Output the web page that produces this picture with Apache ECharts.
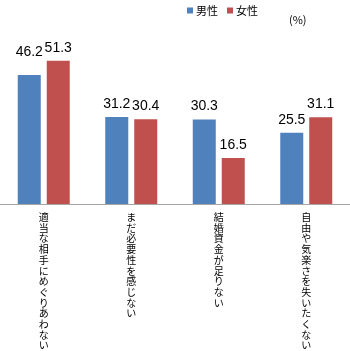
<!DOCTYPE html>
<html><head><meta charset="utf-8">
<script src="https://cdn.jsdelivr.net/npm/echarts@6/dist/echarts.min.js"></script>
<style>html,body{margin:0;padding:0;background:#fff}#c{width:350px;height:351px}</style>
</head><body><div id="c"></div>
<script>
const categories = ['適当な相手にめぐりあわない','まだ必要性を感じない','結婚資金が足りない','自由や気楽さを失いたくない'];
const male = [46.2, 31.2, 30.3, 25.5];
const female = [51.3, 30.4, 16.5, 31.1];
const seriesNames = ['男性','女性'];
const unitLabel = '(%)';

const font = '"Noto Sans CJK JP", "Liberation Sans", sans-serif';
const chart = echarts.init(document.getElementById('c'));
const lbl = {show:true, position:'top', distance:6, fontSize:14, color:'#000', fontFamily:'"Liberation Sans", Arial, sans-serif'};
chart.setOption({
  animation:false,
  title:{text:unitLabel, left:284, top:9, textStyle:{fontSize:11, fontWeight:'normal', color:'#000', fontFamily:font}},
  legend:{data:seriesNames, left:182, top:0, itemWidth:6, itemHeight:6, itemGap:9, icon:'rect',
    textStyle:{fontSize:11, color:'#000', fontFamily:font, padding:[0,0,0,-2]}},
  grid:{left:0, right:0, top:36.6, bottom:147},
  xAxis:{type:'category', data:categories,
    axisLine:{lineStyle:{color:'#a6a6a6', width:1}}, axisTick:{show:false},
    axisLabel:{interval:0, margin:8, fontSize:10, lineHeight:10.7, color:'#000', fontFamily:font, verticalAlign:'top',
      formatter:v=>v.split('').join('\n')}},
  yAxis:{type:'value', min:0, max:60, show:false, splitLine:{show:false}},
  series:[
    {name:seriesNames[0], type:'bar', barWidth:23, barGap:'26%', itemStyle:{color:'#4f81bd'},
      label:lbl,
      data:male.map((v,i)=>i===0?{value:v,label:{offset:[0,-10]}}:v)},
    {name:seriesNames[1], type:'bar', barWidth:23, barGap:'26%', itemStyle:{color:'#c0504d'},
      label:lbl, data:female}
  ]
});
</script></body></html>
